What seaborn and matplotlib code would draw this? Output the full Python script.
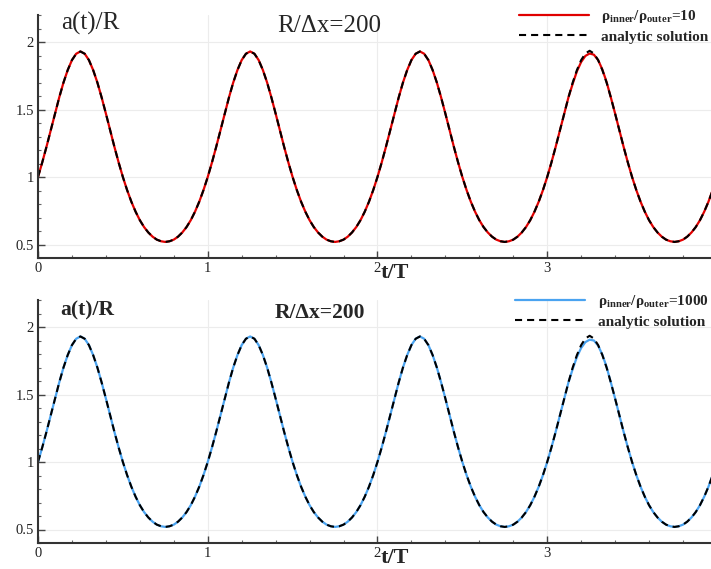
import matplotlib
matplotlib.use("Agg")
import matplotlib.pyplot as plt
import seaborn as sns
from matplotlib.ticker import MultipleLocator, FormatStrFormatter

# ---------------- data ----------------
t = [0.0, 0.025, 0.05, 0.075, 0.1, 0.125, 0.15, 0.175, 0.2, 0.225,
     0.25, 0.275, 0.3, 0.325, 0.35, 0.375, 0.4, 0.425, 0.45, 0.475,
     0.5, 0.525, 0.55, 0.575, 0.6, 0.625, 0.65, 0.675, 0.7, 0.725,
     0.75, 0.775, 0.8, 0.825, 0.85, 0.875, 0.9, 0.925, 0.95, 0.975,
     1.0, 1.025, 1.05, 1.075, 1.1, 1.125, 1.15, 1.175, 1.2, 1.225,
     1.25, 1.275, 1.3, 1.325, 1.35, 1.375, 1.4, 1.425, 1.45, 1.475,
     1.5, 1.525, 1.55, 1.575, 1.6, 1.625, 1.65, 1.675, 1.7, 1.725,
     1.75, 1.775, 1.8, 1.825, 1.85, 1.875, 1.9, 1.925, 1.95, 1.975,
     2.0, 2.025, 2.05, 2.075, 2.1, 2.125, 2.15, 2.175, 2.2, 2.225,
     2.25, 2.275, 2.3, 2.325, 2.35, 2.375, 2.4, 2.425, 2.45, 2.475,
     2.5, 2.525, 2.55, 2.575, 2.6, 2.625, 2.65, 2.675, 2.7, 2.725,
     2.75, 2.775, 2.8, 2.825, 2.85, 2.875, 2.9, 2.925, 2.95, 2.975,
     3.0, 3.025, 3.05, 3.075, 3.1, 3.125, 3.15, 3.175, 3.2, 3.225,
     3.25, 3.275, 3.3, 3.325, 3.35, 3.375, 3.4, 3.425, 3.45, 3.475,
     3.5, 3.525, 3.55, 3.575, 3.6, 3.625, 3.65, 3.675, 3.7, 3.725,
     3.75, 3.775, 3.8, 3.825, 3.85, 3.875, 3.9, 3.925, 3.95, 3.975]

analytic = [1.000, 1.108, 1.224, 1.346, 1.470, 1.589, 1.699, 1.792, 1.866, 1.913,
            1.930, 1.913, 1.866, 1.792, 1.699, 1.589, 1.470, 1.346, 1.224, 1.108,
            1.000, 0.903, 0.817, 0.743, 0.680, 0.629, 0.589, 0.558, 0.536, 0.524,
            0.519, 0.524, 0.536, 0.558, 0.589, 0.629, 0.680, 0.743, 0.817, 0.903,
            1.000, 1.108, 1.224, 1.346, 1.470, 1.589, 1.699, 1.792, 1.866, 1.913,
            1.930, 1.913, 1.866, 1.792, 1.699, 1.589, 1.470, 1.346, 1.224, 1.108,
            1.000, 0.903, 0.817, 0.743, 0.680, 0.629, 0.589, 0.558, 0.536, 0.524,
            0.519, 0.524, 0.536, 0.558, 0.589, 0.629, 0.680, 0.743, 0.817, 0.903,
            1.000, 1.108, 1.224, 1.346, 1.470, 1.589, 1.699, 1.792, 1.866, 1.913,
            1.930, 1.913, 1.866, 1.792, 1.699, 1.589, 1.470, 1.346, 1.224, 1.108,
            1.000, 0.903, 0.817, 0.743, 0.680, 0.629, 0.589, 0.558, 0.536, 0.524,
            0.519, 0.524, 0.536, 0.558, 0.589, 0.629, 0.680, 0.743, 0.817, 0.903,
            1.000, 1.108, 1.224, 1.346, 1.470, 1.589, 1.699, 1.792, 1.866, 1.915,
            1.935, 1.915, 1.866, 1.792, 1.699, 1.589, 1.470, 1.346, 1.224, 1.108,
            1.000, 0.903, 0.817, 0.743, 0.680, 0.629, 0.589, 0.558, 0.536, 0.524,
            0.519, 0.524, 0.536, 0.558, 0.589, 0.629, 0.680, 0.743, 0.817, 0.903]

ratio_10 = [1.000, 1.108, 1.224, 1.346, 1.470, 1.589, 1.699, 1.792, 1.866, 1.913,
            1.930, 1.913, 1.866, 1.792, 1.699, 1.589, 1.470, 1.346, 1.224, 1.108,
            1.000, 0.903, 0.817, 0.743, 0.680, 0.629, 0.589, 0.558, 0.536, 0.524,
            0.519, 0.524, 0.536, 0.558, 0.589, 0.629, 0.680, 0.743, 0.817, 0.903,
            1.000, 1.108, 1.224, 1.346, 1.470, 1.589, 1.699, 1.792, 1.866, 1.913,
            1.930, 1.913, 1.866, 1.792, 1.699, 1.589, 1.470, 1.346, 1.224, 1.108,
            1.000, 0.903, 0.817, 0.743, 0.680, 0.629, 0.589, 0.558, 0.536, 0.524,
            0.519, 0.524, 0.536, 0.558, 0.589, 0.629, 0.680, 0.743, 0.817, 0.903,
            1.000, 1.108, 1.224, 1.346, 1.470, 1.589, 1.699, 1.792, 1.866, 1.913,
            1.930, 1.913, 1.866, 1.792, 1.699, 1.589, 1.470, 1.346, 1.224, 1.108,
            1.000, 0.903, 0.817, 0.743, 0.680, 0.629, 0.589, 0.558, 0.536, 0.524,
            0.519, 0.524, 0.536, 0.558, 0.589, 0.629, 0.680, 0.743, 0.817, 0.903,
            1.000, 1.108, 1.224, 1.346, 1.470, 1.589, 1.690, 1.783, 1.852, 1.897,
            1.915, 1.906, 1.866, 1.796, 1.703, 1.589, 1.470, 1.346, 1.224, 1.108,
            1.000, 0.903, 0.817, 0.743, 0.680, 0.629, 0.589, 0.558, 0.536, 0.524,
            0.519, 0.524, 0.536, 0.558, 0.589, 0.629, 0.680, 0.743, 0.817, 0.903]

ratio_1000 = [1.000, 1.108, 1.224, 1.346, 1.470, 1.589, 1.699, 1.792, 1.866, 1.913,
              1.930, 1.913, 1.866, 1.792, 1.699, 1.589, 1.470, 1.346, 1.224, 1.108,
              1.000, 0.903, 0.817, 0.743, 0.680, 0.629, 0.589, 0.558, 0.536, 0.524,
              0.519, 0.524, 0.536, 0.558, 0.589, 0.629, 0.680, 0.743, 0.817, 0.903,
              1.000, 1.108, 1.224, 1.346, 1.470, 1.589, 1.699, 1.792, 1.866, 1.913,
              1.930, 1.913, 1.866, 1.792, 1.699, 1.589, 1.470, 1.346, 1.224, 1.108,
              1.000, 0.903, 0.817, 0.743, 0.680, 0.629, 0.589, 0.558, 0.536, 0.524,
              0.519, 0.524, 0.536, 0.558, 0.589, 0.629, 0.680, 0.743, 0.817, 0.903,
              1.000, 1.108, 1.224, 1.346, 1.470, 1.589, 1.699, 1.792, 1.866, 1.913,
              1.930, 1.913, 1.866, 1.792, 1.699, 1.589, 1.470, 1.346, 1.224, 1.108,
              1.000, 0.903, 0.817, 0.743, 0.680, 0.629, 0.589, 0.558, 0.536, 0.524,
              0.519, 0.524, 0.536, 0.558, 0.589, 0.629, 0.680, 0.743, 0.817, 0.903,
              1.000, 1.108, 1.224, 1.346, 1.470, 1.589, 1.688, 1.778, 1.845, 1.888,
              1.906, 1.900, 1.862, 1.795, 1.703, 1.589, 1.470, 1.346, 1.224, 1.108,
              1.000, 0.903, 0.817, 0.743, 0.680, 0.629, 0.589, 0.558, 0.536, 0.524,
              0.519, 0.524, 0.536, 0.558, 0.589, 0.629, 0.680, 0.743, 0.817, 0.903]

x_ticks = [0, 1, 2, 3]
y_ticks = [0.5, 1, 1.5, 2]
label_10 = r"ρ$_{\mathbf{inner}}$/ρ$_{\mathbf{outer}}$=10"
label_1000 = r"ρ$_{\mathbf{inner}}$/ρ$_{\mathbf{outer}}$=1000"
label_analytic = "analytic solution"

# ---------------- style ----------------
sns.set_style("white")
plt.rcParams['font.family'] = ['Liberation Serif', 'DejaVu Serif']
plt.rcParams['mathtext.fontset'] = 'custom'
plt.rcParams['mathtext.rm'] = 'Liberation Serif'
plt.rcParams['mathtext.bf'] = 'Liberation Serif:bold'
plt.rcParams['mathtext.it'] = 'Liberation Serif:italic'

W, H = 711, 569
fig = plt.figure(figsize=(W / 100, H / 100), dpi=100)
ax1 = fig.add_axes([38 / W, 1 - 258 / H, 1 - 38 / W, 243 / H])
ax2 = fig.add_axes([38 / W, 1 - 543 / H, 1 - 38 / W, 243 / H])

dash = (0, (3.4, 2.4))
for ax, num, col, lab in [(ax1, ratio_10, '#e00000', label_10),
                          (ax2, ratio_1000, '#4aa3f0', label_1000)]:
    sns.lineplot(x=t, y=num, ax=ax, color=col, lw=1.6, label=lab, sort=False)
    sns.lineplot(x=t, y=analytic, ax=ax, color='black', lw=1.5,
                 linestyle=dash, label=label_analytic, sort=False)
    ax.set_xlim(0, 3.965)
    ax.set_ylim(0.4, 2.2)
    ax.set_xticks(x_ticks)
    ax.set_yticks(y_ticks)
    ax.xaxis.set_minor_locator(MultipleLocator(0.2))
    ax.yaxis.set_minor_locator(MultipleLocator(0.1))
    ax.yaxis.set_major_formatter(FormatStrFormatter('%g'))
    ax.xaxis.set_major_formatter(FormatStrFormatter('%g'))
    ax.tick_params(which='major', direction='in', length=5, width=1.0,
                   color='#444444', labelsize=10.5, labelcolor='#222222', pad=3)
    ax.tick_params(which='minor', direction='in', length=2.5, width=0.8,
                   color='#666666')
    ax.tick_params(axis='x', which='both', bottom=True, top=False)
    ax.tick_params(axis='y', which='both', left=True, right=False)
    ax.grid(True, which='major', color='#ececec', lw=0.8)
    ax.set_axisbelow(True)
    for s in ['top', 'right']:
        ax.spines[s].set_visible(False)
    for s in ['left', 'bottom']:
        ax.spines[s].set_color('#333333')
        ax.spines[s].set_linewidth(1.5)
    ax.set_xlabel('t/T', fontsize=16, fontweight='bold', labelpad=0)
    ax.xaxis.set_label_coords(0.53, -0.022)
    ax.set_ylabel('')
    ax.legend(loc='upper right', bbox_to_anchor=(1.005, 1.052),
              borderaxespad=0, frameon=False, handlelength=4.6,
              handletextpad=0.8, labelspacing=0.3,
              prop={'weight': 'bold', 'size': 11})

# panel annotations
fig.text(61 / W, 1 - 12 / H, 'a(t)/R', fontsize=18, va='top', ha='left')
fig.text(277 / W, 1 - 15 / H, 'R/Δx=200', fontsize=18, va='top', ha='left')
fig.text(60 / W, 1 - 300 / H, 'a(t)/R', fontsize=15.5, fontweight='bold',
         va='top', ha='left')
fig.text(275 / W, 1 - 303 / H, 'R/Δx=200', fontsize=15.5, fontweight='bold',
         va='top', ha='left')

fig.savefig('out.png', dpi=100)
